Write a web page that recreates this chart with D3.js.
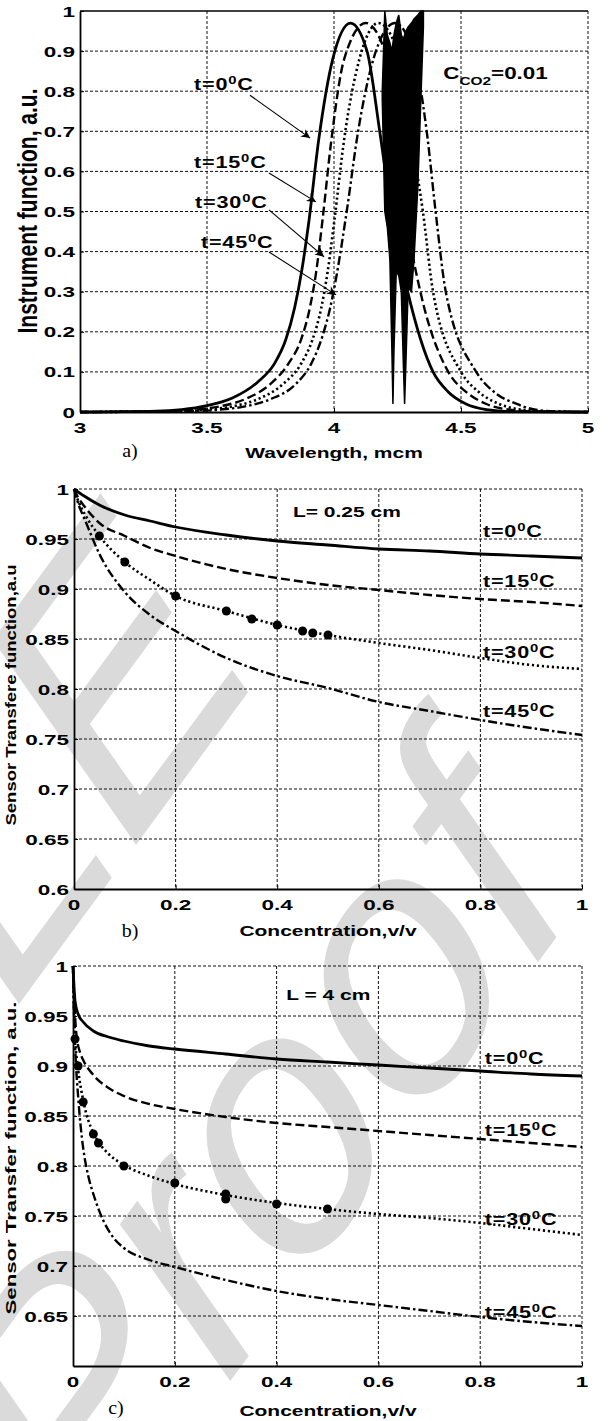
<!DOCTYPE html>
<html>
<head>
<meta charset="utf-8">
<script src="https://cdn.jsdelivr.net/npm/d3@7"></script>
<style>
  body { margin: 0; background: #fff; }
  text { font-family: "Liberation Sans", Arial, sans-serif; }
</style>
</head>
<body>
<div id="vis"></div>
<script>
const FRAME_WIDTH = 611;
const FRAME_HEIGHT = 1421;

// ---- panel a: instrument function vs wavelength ----
const WAVE_T0 = [[3.0,0],[3.3,0.002],[3.4,0.006],[3.5,0.016],[3.6,0.035],[3.7,0.075],[3.765,0.12],[3.81,0.18],
  [3.845,0.26],[3.875,0.36],[3.9,0.47],[3.94,0.68],[3.995,0.88],[4.065,0.97],[4.13,0.9],[4.18,0.7],[4.225,0.5],
  [4.29,0.3],[4.39,0.1],[4.45,0.05],[4.52,0.02],[4.6,0.006],[4.7,0.001],[5.0,0]];
const WAVE_T15 = [[3.0,0],[3.35,0.002],[3.45,0.006],[3.55,0.014],[3.65,0.032],[3.75,0.07],[3.82,0.12],[3.87,0.18],
  [3.905,0.26],[3.93,0.35],[3.955,0.48],[3.99,0.68],[4.04,0.88],[4.125,0.97],[4.2,0.9],[4.24,0.7],[4.28,0.5],
  [4.34,0.3],[4.45,0.1],[4.52,0.05],[4.6,0.02],[4.7,0.005],[4.8,0.001],[5.0,0]];
const WAVE_T30 = [[3.0,0],[3.4,0.002],[3.5,0.006],[3.6,0.014],[3.7,0.032],[3.8,0.07],[3.87,0.12],[3.915,0.18],
  [3.95,0.26],[3.975,0.35],[4.0,0.47],[4.04,0.68],[4.1,0.88],[4.175,0.97],[4.25,0.9],[4.3,0.7],[4.35,0.5],
  [4.39,0.3],[4.5,0.1],[4.57,0.05],[4.65,0.02],[4.75,0.005],[4.85,0.001],[5.0,0]];
const WAVE_T45 = [[3.0,0],[3.45,0.002],[3.55,0.006],[3.65,0.014],[3.75,0.032],[3.85,0.07],[3.91,0.12],[3.955,0.19],
  [3.985,0.26],[4.01,0.34],[4.05,0.5],[4.095,0.7],[4.165,0.9],[4.24,0.97],[4.31,0.9],[4.365,0.7],[4.4,0.5],
  [4.44,0.3],[4.56,0.1],[4.63,0.05],[4.72,0.02],[4.8,0.005],[4.9,0.001],[5.0,0]];
// CO2 absorption lines: wavelength, lower envelope, upper envelope
const CO2_BAND = [[4.19,0.78,0.8],[4.2,0.5,1.0],[4.21,0.46,0.94],[4.22,0.38,0.92],[4.228,0.15,0.9],
  [4.232,0.02,0.92],[4.236,0.15,0.94],[4.245,0.35,0.97],[4.255,0.34,0.99],[4.265,0.3,0.94],[4.273,0.12,0.93],
  [4.278,0.02,0.94],[4.283,0.12,0.95],[4.292,0.31,0.96],[4.305,0.3,0.97],[4.315,0.38,0.98],[4.33,0.56,0.99],
  [4.342,0.78,1.0],[4.352,0.96,1.0]];

// ---- panel b: L = 0.25 cm ----
const CONC_B_T0 = [[0,1],[0.02,0.993],[0.05,0.984],[0.1,0.974],[0.15,0.968],[0.2,0.962],[0.3,0.954],[0.4,0.948],
  [0.5,0.944],[0.6,0.94],[0.7,0.938],[0.8,0.935],[0.9,0.933],[1,0.931]];
const CONC_B_T15 = [[0,1],[0.01,0.99],[0.02,0.983],[0.05,0.966],[0.1,0.953],[0.15,0.941],[0.2,0.933],[0.3,0.92],
  [0.4,0.911],[0.5,0.904],[0.6,0.899],[0.7,0.894],[0.8,0.89],[0.9,0.887],[1,0.883]];
const CONC_B_T30 = [[0,1],[0.01,0.986],[0.02,0.976],[0.05,0.953],[0.1,0.927],[0.15,0.909],[0.2,0.893],[0.3,0.878],
  [0.4,0.864],[0.5,0.854],[0.6,0.846],[0.7,0.839],[0.8,0.831],[0.9,0.824],[1,0.82]];
const CONC_B_T45 = [[0,1],[0.01,0.983],[0.02,0.971],[0.05,0.935],[0.1,0.897],[0.15,0.874],[0.2,0.858],[0.3,0.831],
  [0.4,0.813],[0.5,0.801],[0.6,0.787],[0.7,0.778],[0.8,0.769],[0.9,0.761],[1,0.754]];
const MEAS_B = [[0.05,0.953],[0.1,0.927],[0.2,0.893],[0.3,0.878],[0.35,0.87],[0.4,0.864],[0.45,0.858],[0.47,0.856],[0.5,0.854]];

// ---- panel c: L = 4 cm ----
const CONC_C_T0 = [[0,1],[0.004,0.965],[0.01,0.952],[0.02,0.944],[0.04,0.935],[0.07,0.929],[0.1,0.925],[0.15,0.92],
  [0.2,0.917],[0.3,0.912],[0.4,0.907],[0.5,0.904],[0.6,0.901],[0.7,0.898],[0.8,0.895],[0.9,0.892],[1,0.89]];
const CONC_C_T15 = [[0,1],[0.003,0.96],[0.007,0.93],[0.013,0.915],[0.02,0.906],[0.04,0.891],[0.07,0.878],[0.1,0.87],
  [0.15,0.862],[0.2,0.857],[0.3,0.849],[0.4,0.843],[0.5,0.839],[0.6,0.835],[0.7,0.831],[0.8,0.827],[0.9,0.823],[1,0.819]];
const CONC_C_T30 = [[0,1],[0.002,0.96],[0.004,0.93],[0.01,0.897],[0.02,0.866],[0.04,0.833],[0.05,0.824],[0.07,0.812],
  [0.1,0.801],[0.15,0.79],[0.2,0.782],[0.3,0.771],[0.4,0.763],[0.5,0.757],[0.6,0.752],[0.7,0.748],[0.8,0.743],[0.9,0.737],[1,0.731]];
const CONC_C_T45 = [[0,1],[0.002,0.95],[0.005,0.91],[0.01,0.87],[0.015,0.84],[0.02,0.818],[0.03,0.79],[0.04,0.772],
  [0.06,0.745],[0.08,0.728],[0.1,0.718],[0.15,0.706],[0.2,0.699],[0.3,0.686],[0.4,0.675],[0.5,0.667],[0.6,0.661],
  [0.7,0.655],[0.8,0.649],[0.9,0.644],[1,0.64]];
const MEAS_C = [[0.004,0.927],[0.01,0.9],[0.02,0.864],[0.04,0.832],[0.05,0.823],[0.1,0.8],[0.2,0.783],[0.3,0.772],[0.3,0.767],[0.4,0.762],[0.5,0.757]];

// tick values
const TICKS_A_X = [3, 3.5, 4, 4.5, 5];
const TICKS_A_Y = [0, 0.1, 0.2, 0.3, 0.4, 0.5, 0.6, 0.7, 0.8, 0.9, 1];
const TICKS_BC_X = [0, 0.2, 0.4, 0.6, 0.8, 1];
const TICKS_B_Y = [0.6, 0.65, 0.7, 0.75, 0.8, 0.85, 0.9, 0.95, 1];
const TICKS_C_Y = [0.65, 0.7, 0.75, 0.8, 0.85, 0.9, 0.95, 1];
const TEMPS = ['0', '15', '30', '45'];

// line styles per temperature
const STYLES = [
  {dash: null, width: 2.8},
  {dash: '9,4', width: 2.4},
  {dash: '2.2,2.8', width: 2.6},
  {dash: '9,3,2.5,3', width: 2.4}
];

const FRAME = d3.select('#vis')
  .append('svg')
    .attr('width', FRAME_WIDTH)
    .attr('height', FRAME_HEIGHT);

// background watermark, two slanted lines running up to the right
const WM = FRAME.append('g')
  .attr('transform', 'translate(98,1561) scale(1,1.15) rotate(-49.8)')
  .attr('font-size', 326)
  .attr('font-style', 'italic')
  .attr('fill', '#dadada');
WM.append('text').attr('x', 309).attr('y', -373).text('LE');
WM.append('text').attr('x', -18).attr('y', 0).text('Proof');

// stretched text helper (the figure's lettering is wide)
function label(g, x, y, str, o) {
  o = o || {};
  const t = g.append('text')
    .attr('transform', 'translate(' + x + ',' + y + ') scale(' + (o.sx || 1.5) + ',1)')
    .attr('font-size', o.size || 15)
    .attr('font-weight', o.weight || 'bold')
    .attr('text-anchor', o.anchor || 'start')
    .text(str);
  if (o.family) t.style('font-family', o.family);
  return t;
}

function tempLabel(g, x, y, temp) {
  const t = g.append('text')
    .attr('transform', 'translate(' + x + ',' + y + ') scale(1.35,1)')
    .attr('font-size', 16)
    .attr('font-weight', 'bold')
    .attr('letter-spacing', 0.6);
  t.append('tspan').text('t=' + temp);
  t.append('tspan').attr('dy', -6).attr('font-size', 11).text('0');
  t.append('tspan').attr('dy', 6).text('C');
}

function makePanel(p) {
  const X = d3.scaleLinear().domain(p.xDomain).range([p.left, p.right]);
  const Y = d3.scaleLinear().domain(p.yDomain).range([p.bottom, p.top]);
  const g = FRAME.append('g');

  // dotted grid
  g.selectAll('.vgrid').data(p.xTicks.slice(1)).enter().append('line')
    .attr('x1', d => X(d)).attr('x2', d => X(d))
    .attr('y1', p.top).attr('y2', p.bottom)
    .attr('stroke', '#111').attr('stroke-width', 1).attr('stroke-dasharray', '3,2');
  g.selectAll('.hgrid').data(p.gridY).enter().append('line')
    .attr('x1', p.left).attr('x2', p.right)
    .attr('y1', d => Y(d)).attr('y2', d => Y(d))
    .attr('stroke', '#111').attr('stroke-width', 1).attr('stroke-dasharray', '3,2');

  // axes
  g.append('g')
    .attr('transform', 'translate(0,' + p.bottom + ')')
    .call(d3.axisBottom(X).tickValues(p.xTicks).tickSizeInner(-4).tickSizeOuter(0).tickFormat(''))
    .call(a => a.select('.domain').attr('stroke-width', 1.8));
  g.append('g')
    .attr('transform', 'translate(' + p.left + ',0)')
    .call(d3.axisLeft(Y).tickValues(p.yTicks).tickSizeInner(-4).tickSizeOuter(0).tickFormat(''))
    .call(a => a.select('.domain').attr('stroke-width', 1.8));
  if (p.solidTop) {
    g.append('line').attr('x1', p.left).attr('x2', p.right)
      .attr('y1', p.top).attr('y2', p.top).attr('stroke', '#000').attr('stroke-width', 1.6);
  }

  // tick labels
  p.xTicks.forEach(v => label(g, X(v), p.bottom + p.xLabelDy, String(v), {anchor: 'middle'}));
  p.yTicks.forEach(v => label(g, p.left - 5, Y(v) + 5.5, String(v), {anchor: 'end'}));

  return {g: g, X: X, Y: Y};
}

function drawCurves(panel, series) {
  const line = d3.line()
    .x(d => panel.X(d[0]))
    .y(d => panel.Y(d[1]))
    .curve(d3.curveMonotoneX);
  series.forEach((s, i) => {
    panel.g.append('path')
      .datum(s)
      .attr('d', line)
      .attr('fill', 'none')
      .attr('stroke', '#000')
      .attr('stroke-width', STYLES[i].width)
      .attr('stroke-dasharray', STYLES[i].dash);
  });
}

function drawPoints(panel, pts) {
  panel.g.selectAll('.pt').data(pts).enter().append('circle')
    .attr('cx', d => panel.X(d[0]))
    .attr('cy', d => panel.Y(d[1]))
    .attr('r', 4.5)
    .attr('fill', '#000');
}

function yTitle(x, y, str, size, len, perp) {
  FRAME.append('text')
    .attr('transform', 'translate(' + x + ',' + y + ') rotate(-90) scale(1,' + perp + ')')
    .attr('font-size', size)
    .attr('font-weight', 'bold')
    .attr('text-anchor', 'middle')
    .attr('dy', '0.36em')
    .attr('textLength', len)
    .attr('lengthAdjust', 'spacingAndGlyphs')
    .text(str);
}

const SERIF = '"Liberation Serif", "Times New Roman", serif';

// ================= panel a =================
const PA = makePanel({
  left: 80, right: 588, top: 11, bottom: 412,
  xDomain: [3, 5], yDomain: [0, 1],
  xTicks: TICKS_A_X, yTicks: TICKS_A_Y, gridY: TICKS_A_Y.slice(1, -1),
  solidTop: true, xLabelDy: 21
});
drawCurves(PA, [WAVE_T0, WAVE_T15, WAVE_T30, WAVE_T45]);
PA.g.append('path')
  .datum(CO2_BAND)
  .attr('d', d3.area().x(d => PA.X(d[0])).y0(d => PA.Y(d[1])).y1(d => PA.Y(d[2])))
  .attr('fill', '#000')
  .attr('stroke', '#000')
  .attr('stroke-width', 1.5);

// arrows from temperature labels to curves
FRAME.append('defs').append('marker')
  .attr('id', 'arr').attr('viewBox', '0 0 10 10').attr('refX', 10).attr('refY', 5)
  .attr('markerWidth', 13).attr('markerHeight', 9).attr('markerUnits', 'userSpaceOnUse')
  .attr('orient', 'auto')
  .append('path').attr('d', 'M0,0 L10,5 L0,10 L3,5 Z').attr('fill', '#000');

const ARROWS_A = [[3.669,0.79,3.906,0.683],[3.744,0.596,3.929,0.524],[3.744,0.504,3.961,0.387],[3.744,0.399,4.008,0.292]];
const LABELS_A = [[3.449,0.803],[3.449,0.608],[3.453,0.509],[3.476,0.409]];
ARROWS_A.forEach(a => {
  PA.g.append('line')
    .attr('x1', PA.X(a[0])).attr('y1', PA.Y(a[1]))
    .attr('x2', PA.X(a[2])).attr('y2', PA.Y(a[3]))
    .attr('stroke', '#000').attr('stroke-width', 1.1)
    .attr('marker-end', 'url(#arr)');
});
LABELS_A.forEach((l, i) => tempLabel(PA.g, PA.X(l[0]), PA.Y(l[1]), TEMPS[i]));

const cco2 = PA.g.append('text')
  .attr('transform', 'translate(' + PA.X(4.43) + ',' + PA.Y(0.83) + ') scale(1.4,1)')
  .attr('font-size', 16).attr('font-weight', 'bold');
cco2.append('tspan').text('C');
cco2.append('tspan').attr('dy', 6).attr('font-size', 11).text('CO2');
cco2.append('tspan').attr('dy', -6).text('=0.01');

yTitle(27, 211, 'Instrument function, a.u.', 19, 245, 1.5);
label(FRAME, 334, 458, 'Wavelength, mcm', {anchor: 'middle', size: 15, sx: 1.4});
label(FRAME, 130, 457, 'a)', {anchor: 'middle', size: 19, weight: 'normal', sx: 1.05, family: SERIF});

// ================= panel b =================
const PB = makePanel({
  left: 74, right: 582, top: 489, bottom: 889,
  xDomain: [0, 1], yDomain: [0.6, 1],
  xTicks: TICKS_BC_X, yTicks: TICKS_B_Y, gridY: TICKS_B_Y.slice(1),
  solidTop: false, xLabelDy: 21
});
drawCurves(PB, [CONC_B_T0, CONC_B_T15, CONC_B_T30, CONC_B_T45]);
drawPoints(PB, MEAS_B);
label(PB.g, PB.X(0.431), PB.Y(0.972), 'L= 0.25 cm', {size: 15, sx: 1.4});
const LABELS_B = [[0.805,0.952],[0.805,0.902],[0.805,0.831],[0.805,0.772]];
LABELS_B.forEach((l, i) => tempLabel(PB.g, PB.X(l[0]), PB.Y(l[1]), TEMPS[i]));
yTitle(10, 695, 'Sensor Transfere function,a.u', 17, 261, 0.9);
label(FRAME, 328, 936, 'Concentration,v/v', {anchor: 'middle', size: 15, sx: 1.4});
label(FRAME, 130, 937, 'b)', {anchor: 'middle', size: 19, weight: 'normal', sx: 1.05, family: SERIF});

// ================= panel c =================
const PC = makePanel({
  left: 73, right: 582, top: 966, bottom: 1366,
  xDomain: [0, 1], yDomain: [0.6, 1],
  xTicks: TICKS_BC_X, yTicks: TICKS_C_Y, gridY: TICKS_C_Y,
  solidTop: false, xLabelDy: 21
});
drawCurves(PC, [CONC_C_T0, CONC_C_T15, CONC_C_T30, CONC_C_T45]);
drawPoints(PC, MEAS_C);
label(PC.g, PC.X(0.419), PC.Y(0.966), 'L = 4 cm', {size: 15, sx: 1.4});
const LABELS_C = [[0.809,0.902],[0.809,0.83],[0.809,0.741],[0.809,0.648]];
LABELS_C.forEach((l, i) => tempLabel(PC.g, PC.X(l[0]), PC.Y(l[1]), TEMPS[i]));
yTitle(10, 1158, 'Sensor Transfer function, a.u.', 17, 313, 0.9);
label(FRAME, 328, 1416, 'Concentration,v/v', {anchor: 'middle', size: 15, sx: 1.4});
label(FRAME, 116, 1414, 'c)', {anchor: 'middle', size: 19, weight: 'normal', sx: 1.05, family: SERIF});
</script>
</body>
</html>
